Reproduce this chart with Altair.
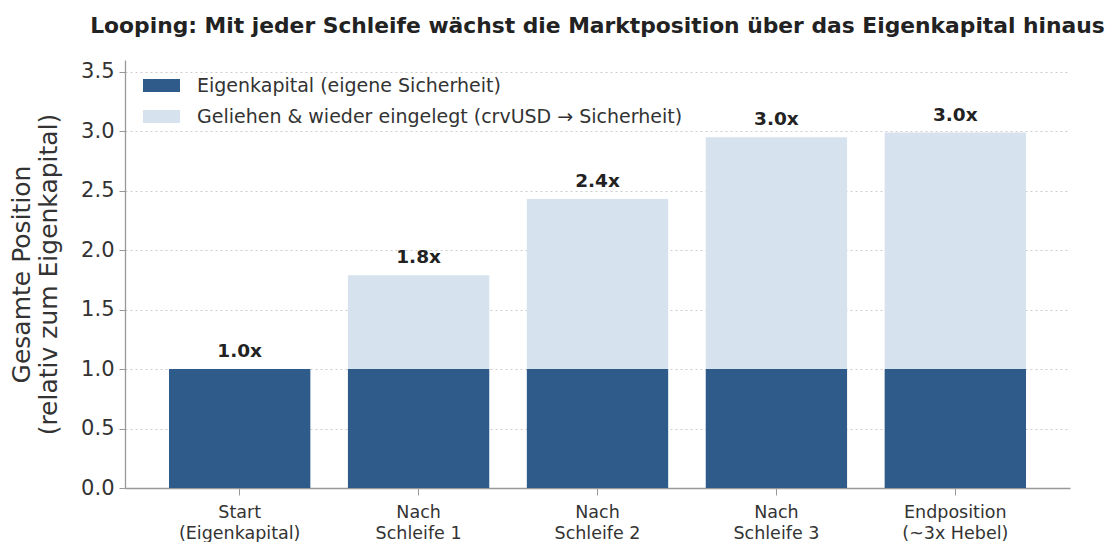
import altair as alt
import pandas as pd

categories = ["Start\n(Eigenkapital)", "Nach\nSchleife 1", "Nach\nSchleife 2", "Nach\nSchleife 3", "Endposition\n(~3x Hebel)"]
equity = [1.0, 1.0, 1.0, 1.0, 1.0]
borrowed = [0.0, 0.79, 1.43, 1.95, 1.99]
bar_labels = ["1.0x", "1.8x", "2.4x", "3.0x", "3.0x"]
series_names = ["Eigenkapital (eigene Sicherheit)", "Geliehen & wieder eingelegt (crvUSD → Sicherheit)"]
colors = ["#2e5b8a", "#d6e2ee"]

rows = []
for c, e, b in zip(categories, equity, borrowed):
    rows.append({"cat": c, "series": series_names[0], "value": e, "ord": 0})
    rows.append({"cat": c, "series": series_names[1], "value": b, "ord": 1})
df = pd.DataFrame(rows)

tot = pd.DataFrame({"cat": categories,
                    "total": [e + b for e, b in zip(equity, borrowed)],
                    "label": bar_labels})

FONT = "DejaVu Sans"

xenc = alt.X("cat:N", sort=categories, title=None,
             scale=alt.Scale(paddingInner=0.21, paddingOuter=0.246),
             axis=alt.Axis(labelExpr="split(datum.label, '\\n')", labelAngle=0,
                           labelFont=FONT, labelFontSize=17.5, labelColor="#333333",
                           labelLineHeight=21, labelPadding=8,
                           tickColor="#999999", tickSize=7, domainColor="#999999",
                           domainWidth=1.3, grid=False))

bars = alt.Chart(df).mark_bar().encode(
    x=xenc,
    y=alt.Y("value:Q", stack="zero",
            scale=alt.Scale(domain=[0, 3.6], nice=False),
            title=["Gesamte Position", "(relativ zum Eigenkapital)"],
            axis=alt.Axis(values=[0, 0.5, 1.0, 1.5, 2.0, 2.5, 3.0, 3.5], format=".1f",
                          labelFont=FONT, labelFontSize=21, labelColor="#333333",
                          labelPadding=5, tickColor="#999999", tickSize=6,
                          domainColor="#999999", domainWidth=1.3,
                          grid=True, gridColor="#cccccc", gridDash=[2, 3], gridWidth=1,
                          titleFont=FONT, titleFontSize=25, titleFontWeight="normal",
                          titleColor="#333333", titlePadding=19, titleLineHeight=27)),
    color=alt.Color("series:N", sort=series_names,
                    scale=alt.Scale(domain=series_names, range=colors),
                    legend=alt.Legend(title=None, orient="none", legendX=27, legendY=16,
                                      labelFont=FONT, labelFontSize=19, labelColor="#333333",
                                      labelLimit=0,
                                      symbolType="M-2,-0.7L2,-0.7L2,0.7L-2,0.7Z",
                                      symbolSize=342, symbolStrokeWidth=0,
                                      rowPadding=11, labelOffset=26, padding=0)),
    order=alt.Order("ord:Q", sort="ascending"),
)

text = alt.Chart(tot).mark_text(font=FONT, fontSize=18.5, fontWeight="bold",
                                color="#222222", dy=-8, baseline="bottom").encode(
    x=alt.X("cat:N", sort=categories),
    y=alt.Y("total:Q"),
    text="label:N",
)

chart = alt.layer(bars, text).properties(
    width=945, height=428,
    title=alt.TitleParams("Looping: Mit jeder Schleife wächst die Marktposition über das Eigenkapital hinaus",
                          font=FONT, fontSize=21.8, fontWeight="bold", color="#222222",
                          anchor="middle", offset=22),
    autosize=alt.AutoSizeParams(type="none"),
    padding={"left": 117, "top": 52, "right": 35, "bottom": 54},
).configure_view(stroke=None)

chart.save("out.html", embed_options={"renderer": "svg", "actions": False})
